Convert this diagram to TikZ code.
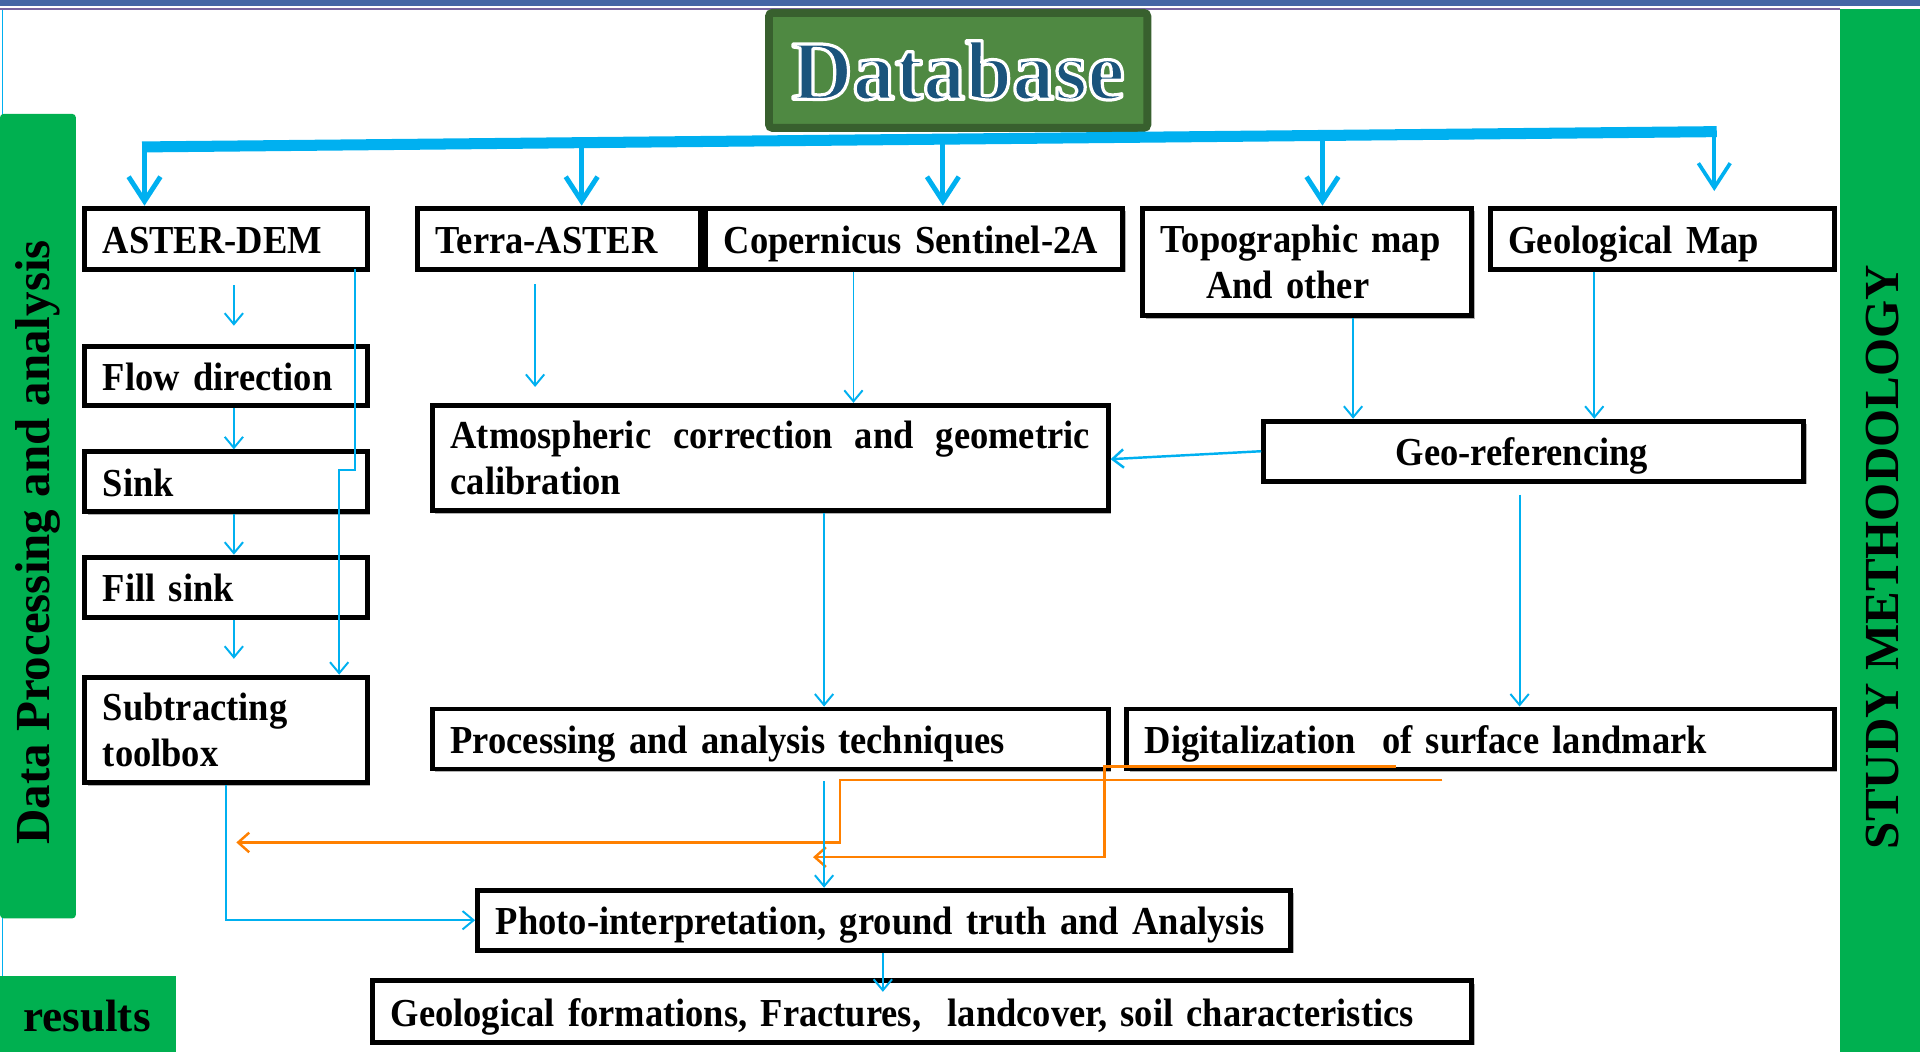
\documentclass[tikz,border=0pt]{standalone}
\usepackage{fontspec}
\setmainfont{Liberation Serif}[FakeStretch=0.92]
\newfontfamily\plainserif{Liberation Serif}
\usetikzlibrary{arrows.meta,calc,shadows}
\definecolor{cyanc}{RGB}{0,176,240}
\definecolor{greenc}{RGB}{0,176,80}
\definecolor{dbfill}{RGB}{79,137,66}
\definecolor{dbborder}{RGB}{56,96,46}
\definecolor{dbblue}{RGB}{26,84,124}
\definecolor{orangec}{RGB}{255,128,0}
\definecolor{bandc}{RGB}{68,102,165}
\definecolor{bandline}{RGB}{120,100,160}
\newcommand\whiteoutline[1]{{\color{dbblue}\special{pdf:literal direct 1 1 1 RG 2.6 w 1 j 2 Tr}#1\special{pdf:literal direct 0 Tr}}}
\begin{document}
\begin{tikzpicture}[x=1pt,y=-1pt,
  box/.style={draw=black, line width=4pt, fill=white, inner xsep=15pt, inner ysep=0pt,
    font=\bfseries\fontsize{32.4}{37}\selectfont, align=left,
    execute at begin node={\hyphenpenalty=10000 \exhyphenpenalty=10000 },
    drop shadow={shadow xshift=2.5pt,shadow yshift=-2.5pt,fill=black!30,opacity=1}},
  oneline/.style={text height=24pt, text depth=0pt},
  arr/.style={cyanc, line width=1.6pt, -{Straight Barb[length=9pt,width=15pt]}},
  bigarr/.style={cyanc, line width=4pt, -{Straight Barb[length=20pt,width=26pt]}},
  oarr/.style={orangec, line width=2pt, -{Straight Barb[length=9pt,width=16pt]}},
  sidetext/.style={font=\plainserif\bfseries\fontsize{40}{40}\selectfont, text=black, inner sep=0pt}
]
\useasboundingbox (0,0) rectangle (1568,859);
\fill[white] (0,0) rectangle (1568,859);
% frame decorations
\draw[cyanc, line width=1.5pt] (2,8) -- (2,797);
\fill[bandc] (0,0) rectangle (1568,5);
\draw[bandline, line width=1.2pt] (0,7.5) -- (1503,7.5);
\fill[greenc, rounded corners=3pt] (0,93) rectangle (62,750);
\fill[greenc] (1503,7) rectangle (1568,859);
\fill[greenc] (0,797) rectangle (144,859);
\node[sidetext, rotate=90] (lefttitle) at (31,443) {Data Processing and analysis};
\node[sidetext, rotate=90] (righttitle) at (1537,455) {STUDY METHODOLOGY};
\node[sidetext, font=\plainserif\bfseries\fontsize{37}{37}\selectfont] (results) at (71,830) {results};

% Database header
\node[draw=dbborder, line width=6.5pt, fill=dbfill, rounded corners=3pt,
  minimum width=309, minimum height=94, inner sep=0pt,
  font=\plainserif\bfseries\fontsize{69}{69}\selectfont] (db) at (782.5,57.5)
  {\whiteoutline{Database}};

% boxes
\node[box, oneline, minimum width=231, minimum height=50, text width=201] (dem) at (184.5,195) {ASTER-DEM};
\node[box, oneline, minimum width=231, minimum height=48, text width=201] (flow) at (184.5,307) {Flow direction};
\node[box, oneline, minimum width=231, minimum height=49, text width=201] (sink) at (184.5,393.5) {Sink};
\node[box, oneline, minimum width=231, minimum height=49, text width=201] (fill) at (184.5,479.5) {Fill sink};
\node[box, minimum width=231, minimum height=86, text width=201] (subt) at (184.5,596) {Subtracting\\toolbox};
\node[box, oneline, minimum width=231, minimum height=50, text width=201] (terra) at (456.5,195) {Terra-ASTER};
\node[box, oneline, minimum width=341, minimum height=50, text width=311] (coper) at (746.5,195) {Copernicus Sentinel-2A};
\node[box, minimum width=269, minimum height=88, text width=239] (topo) at (1067.5,214) {Topographic map\\\hspace*{37pt}And other};
\node[box, oneline, minimum width=281, minimum height=50, text width=251] (geol) at (1357.5,195) {Geological Map};
\node[box, minimum width=552, minimum height=86, text width=522, align=justify] (atmo) at (629,374) {Atmospheric correction and geometric calibration};
\node[box, oneline, minimum width=441, minimum height=49, text width=411] (geor) at (1252.5,368.5) {\hspace*{93pt}Geo-referencing};
\node[box, oneline, minimum width=552, minimum height=49, text width=522] (proc) at (629,603.5) {Processing and analysis techniques};
\node[box, oneline, minimum width=578, minimum height=49, text width=548] (digi) at (1209,603.5) {Digitalization\ \ of surface landmark};
\node[box, oneline, minimum width=664, minimum height=49, text width=634] (photo) at (722,751.5) {Photo-interpretation, ground truth and Analysis};
\node[box, oneline, minimum width=898, minimum height=50, text width=868] (geof) at (753,826) {Geological formations, Fractures,\ \ landcover, soil characteristics};

% bus from database
\coordinate (b1) at (118,120);
\coordinate (b2) at (475,118);
\coordinate (b3) at (770,115);
\coordinate (b4) at (1080,112);
\coordinate (b5) at (1400,109);
\draw[bigarr] (b1) -- (b1 |- dem.north);
\draw[bigarr] (b2) -- (b2 |- terra.north);
\draw[bigarr] (b3) -- (b3 |- coper.north);
\draw[bigarr] (b4) -- (b4 |- topo.north);
\draw[bigarr, line width=3pt] (b5) -- ($(b5 |- geol.north)+(0,-12)$);
\draw[cyanc, line width=9pt] (116,120) -- (1402,107.5);

% left column
\coordinate (d1) at ($(dem.south)+(6.5,11)$);
\draw[arr] (d1) -- ($(d1 |- flow.north)+(0,-15)$);
\coordinate (d2) at ($(flow.south)+(6.5,0)$);
\draw[arr] (d2) -- (d2 |- sink.north);
\coordinate (d3) at ($(sink.south)+(6.5,0)$);
\draw[arr] (d3) -- (d3 |- fill.north);
\coordinate (d4) at ($(fill.south)+(6.5,0)$);
\draw[arr] (d4) -- ($(d4 |- subt.north)+(0,-13)$);
\coordinate (k1) at (290,384);
\coordinate (k2) at (277,384);
\draw[arr] ($(dem.south east)+(-12,-2)$) -- (k1) -- (k2) -- (k2 |- subt.north);
\draw[arr] (subt.south) |- (photo.west);

% middle and right
\coordinate (t2) at ($(terra.south)+(-19.5,10)$);
\draw[arr] (t2) -- ($(t2 |- atmo.north)+(0,-13)$);
\coordinate (c2) at ($(coper.south)+(-49.5,0)$);
\draw[arr] (c2) -- (c2 |- atmo.north);
\coordinate (t1) at ($(topo.south)+(37.5,0)$);
\draw[arr] (t1) -- (t1 |- geor.north);
\coordinate (g2) at ($(geol.south)+(-55.5,0)$);
\draw[arr] (g2) -- (g2 |- geor.north);
\draw[arr, line width=2pt] (geor.west) -- ($(atmo.east)+(0,1)$);
\coordinate (a1) at ($(atmo.south)+(44,0)$);
\draw[arr] (a1) -- (a1 |- proc.north);
\coordinate (g1) at ($(geor.south)+(-11.5,9)$);
\draw[arr] (g1) -- (g1 |- digi.north);

% orange connectors
\coordinate (oa1) at (1178,637);
\coordinate (oa2) at (686,637);
\coordinate (oa3) at (686,688);
\coordinate (oa4) at (193,688);
\draw[oarr] (oa1) -- (oa2) -- (oa3) -- (oa4);
\coordinate (ob1) at (1140,626);
\coordinate (ob2) at (902,626);
\coordinate (ob3) at (902,700);
\coordinate (ob4) at (664,700);
\draw[oarr] (ob1) -- (ob2) -- (ob3) -- (ob4);

% bottom
\coordinate (p1) at ($(proc.south)+(44,8)$);
\draw[arr] (p1) -- (p1 |- photo.north);
\coordinate (q1) at ($(photo.south)+(-1,0)$);
\draw[arr] (q1) -- ($(q1 |- geof.north)+(0,11)$);
\end{tikzpicture}
\end{document}
